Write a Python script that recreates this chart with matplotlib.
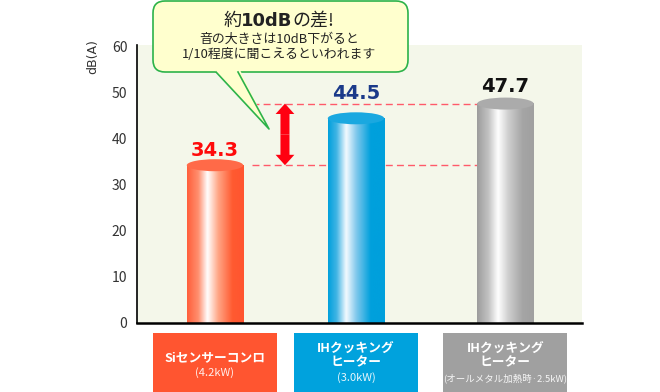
import numpy as np
import matplotlib.pyplot as plt
from matplotlib.colors import LinearSegmentedColormap
from matplotlib.patches import Ellipse, Rectangle, FancyBboxPatch, Polygon, FancyArrowPatch
from matplotlib.transforms import Affine2D, blended_transform_factory
from matplotlib.lines import Line2D

CJK = 'Noto Sans CJK JP'
plt.rcParams['font.family'] = [CJK, 'DejaVu Sans']

# data
categories = ['Siセンサーコンロ', 'IHクッキング\nヒーター', 'IHクッキング\nヒーター']
sub_labels = ['(4.2kW)', '(3.0kW)', '(オールメタル加熱時·2.5kW)']
values = [34.3, 44.5, 47.7]
yticks = [0, 10, 20, 30, 40, 50, 60]

# styles
bar_stops = [
    [(0, '#FF5E3A'), (0.2, '#FF9070'), (0.36, '#FFFFFF'), (0.55, '#FFA585'), (0.8, '#FF5A30'), (1, '#FF5530')],
    [(0, '#00A0DC'), (0.15, '#40B4E4'), (0.32, '#F4FAFF'), (0.5, '#80C8EC'), (0.75, '#00A0DC'), (1, '#00A0DC')],
    [(0, '#9C9C9C'), (0.2, '#C2C2C2'), (0.37, '#FFFFFF'), (0.55, '#CFCFCF'), (0.8, '#A5A5A5'), (1, '#A0A0A0')],
]
cap_colors = ['#FF6A48', '#1AA8E0', '#ABABAB']
label_colors = ['#FF0A0A', '#1B3A8A', '#111111']
label_off = [9, 19, 12]  # pixels above value
box_colors = ['#FF5530', '#00A2DD', '#A0A0A0']
sub_sizes = [8, 8, 6.8]

W, H = 660, 392
fig = plt.figure(figsize=(W / 100, H / 100), dpi=100)
ax = fig.add_axes([137 / W, 1 - 323 / H, 445 / W, 278.3 / H])
pos = np.array([0, 1, 2.06])
bw = 0.40
ax.set_xlim(-0.553, 2.603)
ax.set_ylim(0, 60.5)
ax.set_facecolor('#F4F7EA')
for s in ['top', 'right']:
    ax.spines[s].set_visible(False)
ax.spines['left'].set_linewidth(1.2)
ax.spines['bottom'].set_linewidth(1.8)
ax.set_xticks([])
ax.set_yticks(yticks)
ax.tick_params(axis='y', length=0, pad=7, labelsize=10, labelcolor='#333333')
ax.text(-0.099, 0.959, 'dB(A)', transform=ax.transAxes, rotation=90,
        ha='center', va='center', fontsize=9, color='#333333', family='DejaVu Sans')

# pixel coords (top-left origin) for annotation layout
pix = Affine2D().scale(1 / W, -1 / H).translate(0, 1) + fig.transFigure
ypx = 278.3 / 60.5

# cylinders
grad = np.linspace(0, 1, 256).reshape(1, -1)
for i, v in enumerate(values):
    cmap = LinearSegmentedColormap.from_list(f'c{i}', bar_stops[i])
    x0, x1 = pos[i] - bw / 2, pos[i] + bw / 2
    ax.imshow(grad, cmap=cmap, extent=[x0, x1, 0, v], aspect='auto',
              interpolation='bicubic', zorder=2)
    ax.add_patch(Ellipse((pos[i], v), bw, 12 / ypx, color=cap_colors[i], zorder=3, lw=0))
    ax.annotate(f'{v}', (pos[i], v), xytext=(0, label_off[i]), textcoords='offset pixels',
                ha='center', va='baseline', fontsize=14, fontweight='bold',
                color=label_colors[i], family='DejaVu Sans')
ax.set_xlim(-0.553, 2.603)
ax.set_ylim(0, 60.5)

# dashed guides
xs = pos[0] + bw / 2 + 9 / 141
xe = pos[2] - bw / 2
ax.hlines([values[0], values[2]], xs, xe, colors='#FF5A6A', lw=1,
          linestyles=(0, (5, 3)), zorder=1)

# double arrow
xa = pos[0] + 70 / 141
mid = (values[0] + values[2]) / 2
for end in (values[0], values[2]):
    ax.add_patch(FancyArrowPatch((xa, mid), (xa, end),
                                 arrowstyle='simple,head_length=0.75,head_width=1.35,tail_width=0.65',
                                 mutation_scale=10, color='#FF0011', lw=0, shrinkA=0, shrinkB=0,
                                 zorder=4))

# category boxes
bt = blended_transform_factory(ax.transData, pix)
for i in range(3):
    ax.add_patch(Rectangle((pos[i] - 0.44, 333), 0.88, 60, transform=bt,
                           color=box_colors[i], clip_on=False, lw=0))
    lines = categories[i].split('\n')
    if len(lines) == 1:
        ys, ysub = [358], 373
    else:
        ys, ysub = [348, 363], 378
    for ln, yy in zip(lines, ys):
        ax.text(pos[i], yy, ln, transform=bt, ha='center', va='center', fontsize=9.2,
                fontweight='bold', color='white', clip_on=False)
    ax.text(pos[i], ysub, sub_labels[i], transform=bt, ha='center', va='center',
            fontsize=sub_sizes[i], color='white', alpha=0.9, clip_on=False)

# callout
green = '#2DB34A'
face = '#FFFFCE'
fig.add_artist(FancyBboxPatch((153, 1), 255, 71, boxstyle='round,pad=0,rounding_size=12',
                              transform=pix, fc=face, ec=green, lw=1.2, zorder=5))
fig.add_artist(Polygon([(214, 70), (240, 70), (269, 129)], closed=True, transform=pix,
                       fc=face, ec='none', zorder=6))
fig.add_artist(Line2D([216, 269, 238], [72, 129, 72], transform=pix, color=green, lw=1.2, zorder=7))

fig.canvas.draw()
r = fig.canvas.get_renderer()
pieces = [('約', 'normal', CJK), ('10dB', 'bold', 'DejaVu Sans'), ('の差!', 'normal', CJK)]
tx = [fig.text(0, 26, s, fontsize=13, fontweight=w, family=f, transform=pix,
               va='baseline', ha='left', color='#222222', zorder=8) for s, w, f in pieces]
widths = [t.get_window_extent(r).width for t in tx]
x = 279 - sum(widths) / 2
for t, w in zip(tx, widths):
    t.set_x(x)
    x += w
fig.text(279, 39, '音の大きさは10dB下がると', transform=pix, ha='center', va='center',
         fontsize=9.3, color='#222222', zorder=8)
fig.text(279, 55, '1/10程度に聞こえるといわれます', transform=pix, ha='center', va='center',
         fontsize=9.3, color='#222222', zorder=8)

fig.savefig('out.png', dpi=100)
